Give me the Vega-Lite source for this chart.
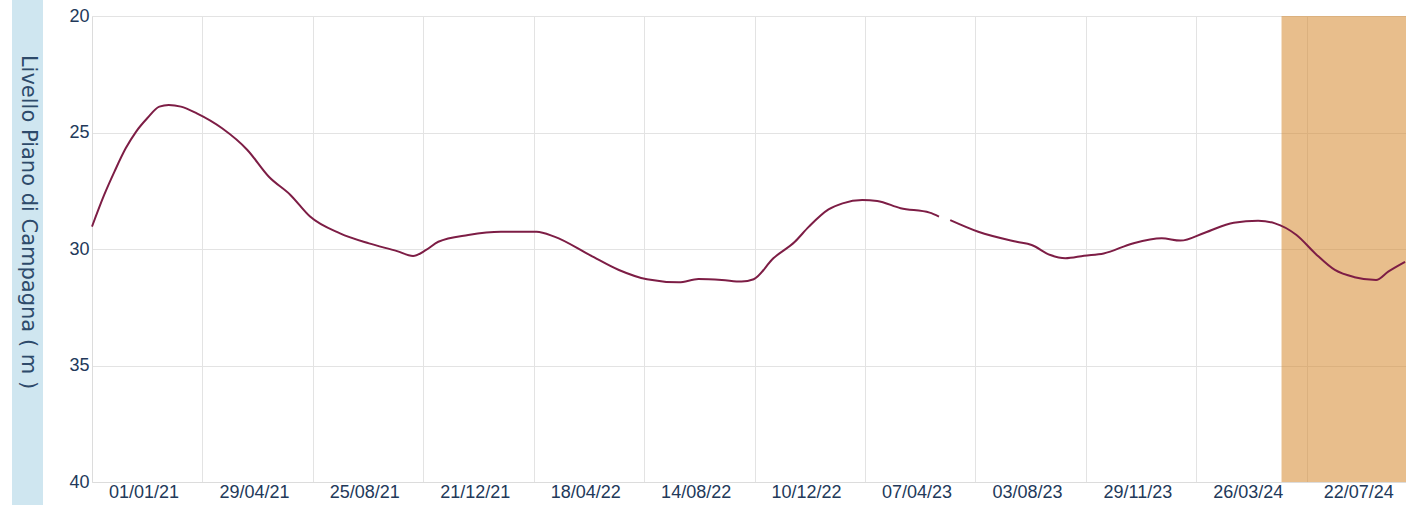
{
  "$schema": "https://vega.github.io/schema/vega-lite/v6.json",
  "background": "white",
  "padding": {"left": 12, "top": -7, "right": 0, "bottom": 0},
  "spacing": 49,
  "center": true,
  "bounds": "flush",
  "config": {"view": {"stroke": null}, "font": "Liberation Sans"},
  "hconcat": [
    {
      "width": 31,
      "height": 512,
      "view": {"fill": "#cfe6f0", "stroke": null},
      "data": {"values": [{"label": "Livello Piano di Campagna ( m )"}]},
      "mark": {"type": "text", "angle": 90, "font": "DejaVu Sans", "fontSize": 21, "color": "#2d4a6a", "dx": -27},
      "encoding": {"text": {"field": "label", "type": "nominal"}}
    },
    {
      "width": 1314,
      "height": 466,
      "layer": [
        {
          "data": {"values": [{"start": "2024-05-01", "end": "2024-09-11"}]},
          "mark": {"type": "rect", "color": "#d5892e", "opacity": 0.55},
          "encoding": {
            "x": {
              "field": "start", "type": "temporal",
              "scale": {"type": "utc", "domain": [{"year": 2020, "month": 11, "date": 7, "utc": true}, {"year": 2024, "month": 9, "date": 11, "utc": true}]},
              "axis": {
                "values": [
                  {"year": 2021, "month": 1, "date": 1, "utc": true},
                  {"year": 2021, "month": 4, "date": 29, "utc": true},
                  {"year": 2021, "month": 8, "date": 25, "utc": true},
                  {"year": 2021, "month": 12, "date": 21, "utc": true},
                  {"year": 2022, "month": 4, "date": 18, "utc": true},
                  {"year": 2022, "month": 8, "date": 14, "utc": true},
                  {"year": 2022, "month": 12, "date": 10, "utc": true},
                  {"year": 2023, "month": 4, "date": 7, "utc": true},
                  {"year": 2023, "month": 8, "date": 3, "utc": true},
                  {"year": 2023, "month": 11, "date": 29, "utc": true},
                  {"year": 2024, "month": 3, "date": 26, "utc": true},
                  {"year": 2024, "month": 7, "date": 22, "utc": true}
                ],
                "format": "%d/%m/%y",
                "tickOffset": -51.5,
                "labelOffset": 51.5,
                "grid": true,
                "gridColor": "#e3e3e3",
                "ticks": false,
                "domainColor": "#dcdcdc",
                "labelFont": "Liberation Sans",
                "labelFontSize": 18,
                "labelColor": "#22395a",
                "labelPadding": 1,
                "labelFlush": false,
                "labelOverlap": false,
                "title": null
              }
            },
            "x2": {"field": "end"}
          }
        },
        {
          "data": {"values": [
            {"date": "2020-11-07", "level": 29.04},
            {"date": "2020-11-20", "level": 27.68},
            {"date": "2020-12-01", "level": 26.68},
            {"date": "2020-12-13", "level": 25.68},
            {"date": "2020-12-24", "level": 24.97},
            {"date": "2021-01-05", "level": 24.39},
            {"date": "2021-01-18", "level": 23.89},
            {"date": "2021-01-28", "level": 23.82},
            {"date": "2021-02-10", "level": 23.89},
            {"date": "2021-02-27", "level": 24.18},
            {"date": "2021-03-26", "level": 24.82},
            {"date": "2021-04-22", "level": 25.75},
            {"date": "2021-05-15", "level": 26.90},
            {"date": "2021-06-07", "level": 27.68},
            {"date": "2021-06-28", "level": 28.61},
            {"date": "2021-07-30", "level": 29.33},
            {"date": "2021-08-30", "level": 29.76},
            {"date": "2021-09-29", "level": 30.09},
            {"date": "2021-10-16", "level": 30.30},
            {"date": "2021-10-30", "level": 30.04},
            {"date": "2021-11-12", "level": 29.69},
            {"date": "2021-12-14", "level": 29.40},
            {"date": "2022-01-18", "level": 29.26},
            {"date": "2022-02-25", "level": 29.26},
            {"date": "2022-03-16", "level": 29.47},
            {"date": "2022-04-23", "level": 30.26},
            {"date": "2022-05-24", "level": 30.90},
            {"date": "2022-06-23", "level": 31.30},
            {"date": "2022-07-27", "level": 31.43},
            {"date": "2022-08-17", "level": 31.29},
            {"date": "2022-09-11", "level": 31.33},
            {"date": "2022-10-02", "level": 31.40},
            {"date": "2022-10-15", "level": 31.30},
            {"date": "2022-11-05", "level": 30.40},
            {"date": "2022-11-28", "level": 29.69},
            {"date": "2022-12-13", "level": 29.04},
            {"date": "2023-01-03", "level": 28.30},
            {"date": "2023-01-18", "level": 28.04},
            {"date": "2023-02-08", "level": 27.90},
            {"date": "2023-02-24", "level": 27.94},
            {"date": "2023-03-21", "level": 28.25},
            {"date": "2023-04-21", "level": 28.44},
            {"date": "2023-05-01", "level": 28.61},
            {"date": "2023-05-06", "level": null},
            {"date": "2023-05-13", "level": 28.76},
            {"date": "2023-06-12", "level": 29.26},
            {"date": "2023-07-23", "level": 29.69},
            {"date": "2023-08-08", "level": 29.83},
            {"date": "2023-08-28", "level": 30.26},
            {"date": "2023-09-13", "level": 30.40},
            {"date": "2023-10-03", "level": 30.29},
            {"date": "2023-10-24", "level": 30.19},
            {"date": "2023-11-24", "level": 29.76},
            {"date": "2023-12-25", "level": 29.54},
            {"date": "2024-01-14", "level": 29.64},
            {"date": "2024-02-09", "level": 29.30},
            {"date": "2024-03-11", "level": 28.87},
            {"date": "2024-04-06", "level": 28.79},
            {"date": "2024-04-24", "level": 28.90},
            {"date": "2024-05-17", "level": 29.40},
            {"date": "2024-06-06", "level": 30.19},
            {"date": "2024-06-27", "level": 30.90},
            {"date": "2024-07-18", "level": 31.21},
            {"date": "2024-08-10", "level": 31.33},
            {"date": "2024-08-23", "level": 30.97},
            {"date": "2024-09-10", "level": 30.55}
          ]},
          "mark": {"type": "line", "color": "#7d1d45", "strokeWidth": 2, "interpolate": "monotone"},
          "encoding": {
            "x": {
              "field": "date", "type": "temporal",
              "scale": {"type": "utc", "domain": [{"year": 2020, "month": 11, "date": 7, "utc": true}, {"year": 2024, "month": 9, "date": 11, "utc": true}]},
              "axis": {
                "values": [
                  {"year": 2021, "month": 1, "date": 1, "utc": true},
                  {"year": 2021, "month": 4, "date": 29, "utc": true},
                  {"year": 2021, "month": 8, "date": 25, "utc": true},
                  {"year": 2021, "month": 12, "date": 21, "utc": true},
                  {"year": 2022, "month": 4, "date": 18, "utc": true},
                  {"year": 2022, "month": 8, "date": 14, "utc": true},
                  {"year": 2022, "month": 12, "date": 10, "utc": true},
                  {"year": 2023, "month": 4, "date": 7, "utc": true},
                  {"year": 2023, "month": 8, "date": 3, "utc": true},
                  {"year": 2023, "month": 11, "date": 29, "utc": true},
                  {"year": 2024, "month": 3, "date": 26, "utc": true},
                  {"year": 2024, "month": 7, "date": 22, "utc": true}
                ],
                "format": "%d/%m/%y",
                "tickOffset": -51.5,
                "labelOffset": 51.5,
                "grid": true,
                "gridColor": "#e3e3e3",
                "ticks": false,
                "domainColor": "#dcdcdc",
                "labelFont": "Liberation Sans",
                "labelFontSize": 18,
                "labelColor": "#22395a",
                "labelPadding": 1,
                "labelFlush": false,
                "labelOverlap": false,
                "title": null
              }
            },
            "y": {
              "field": "level", "type": "quantitative",
              "scale": {"domain": [20, 40], "reverse": true, "nice": false, "zero": false},
              "axis": {
                "values": [20, 25, 30, 35, 40],
                "grid": true,
                "gridColor": "#e3e3e3",
                "ticks": false,
                "domainColor": "#dcdcdc",
                "labelFont": "Liberation Sans",
                "labelFontSize": 18,
                "labelColor": "#22395a",
                "labelPadding": 3,
                "title": null
              }
            }
          }
        }
      ]
    }
  ]
}
